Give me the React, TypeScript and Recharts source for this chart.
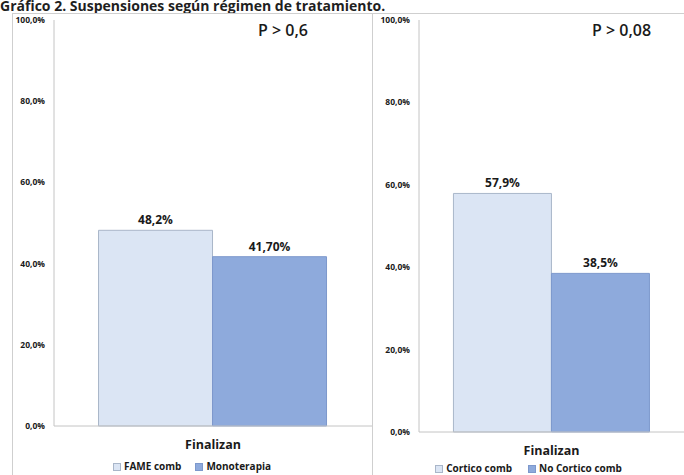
import { BarChart, Bar, XAxis, YAxis, Legend, LabelList } from "recharts";

// valores (%) del gráfico de suspensiones
const categories = ["Finalizan"];
const fameComb = [48.2];
const monoterapia = [41.7];
const corticoComb = [57.9];
const noCorticoComb = [38.5];
const yTicks = [0, 20, 40, 60, 80, 100];
const pValues = ["P > 0,6", "P > 0,08"];

const FONT = "'Open Sans', 'Liberation Sans', sans-serif";
const LIGHT = { fill: "#dbe5f4", stroke: "#a9b6c9" };
const DARK = { fill: "#8eaadc", stroke: "#7d98cc" };

type SeriesDef = {
  name: string;
  values: number[];
  decimals: number;
  color: { fill: string; stroke: string };
};

const fmtPct = (v: number, decimals: number) =>
  v.toFixed(decimals).replace(".", ",") + "%";

function buildRows(series: SeriesDef[]) {
  return categories.map((cat, i) => {
    const row: { [k: string]: string | number } = { name: cat };
    series.forEach((s) => {
      row[s.name] = s.values[i];
    });
    return row;
  });
}

const LegendBoxes = ({
  series,
  gap,
  padTop,
}: {
  series: SeriesDef[];
  gap: number;
  padTop: number;
}) => (
  <div
    style={{
      display: "flex",
      justifyContent: "center",
      gap,
      paddingTop: padTop,
      fontFamily: FONT,
      fontWeight: 700,
      fontSize: 10,
      color: "#1a1a1a",
      lineHeight: "13px",
    }}
  >
    {series.map((s) => (
      <span key={s.name} style={{ display: "flex", alignItems: "center" }}>
        <span
          style={{
            display: "inline-block",
            width: 6,
            height: 6,
            background: s.color.fill,
            border: `1px solid ${s.color.stroke}`,
            marginRight: 3,
          }}
        />
        {s.name}
      </span>
    ))}
  </div>
);

type PanelProps = {
  series: SeriesDef[];
  width: number;
  marginLeft: number;
  axisWidth: number;
  xAxisHeight: number;
  legendHeight: number;
  legendPad: number;
  gapPct: string;
  legendGap: number;
};

function Panel({
  series,
  width,
  marginLeft,
  axisWidth,
  xAxisHeight,
  legendHeight,
  legendPad,
  gapPct,
  legendGap,
}: PanelProps) {
  const rows = buildRows(series);
  return (
    <BarChart
      width={width}
      height={475}
      data={rows}
      margin={{ top: 20, right: 0, left: marginLeft, bottom: 0 }}
      barCategoryGap={gapPct}
      barGap={0}
    >
      <XAxis
        dataKey="name"
        height={xAxisHeight}
        axisLine={{ stroke: "#c4c4c4" }}
        tickLine={false}
        tickSize={0}
        tickMargin={14}
        tick={{ fontFamily: FONT, fontWeight: 700, fontSize: 12.5, fill: "#1a1a1a" }}
      />
      <YAxis
        width={axisWidth}
        domain={[0, 100]}
        ticks={yTicks}
        interval={0}
        axisLine={{ stroke: "#c4c4c4" }}
        tickLine={false}
        tickSize={0}
        tickMargin={9}
        tickFormatter={(v: number) => fmtPct(v, 1)}
        tick={{ fontFamily: FONT, fontWeight: 700, fontSize: 8.5, fill: "#1a1a1a" }}
      />
      <Legend
        verticalAlign="bottom"
        height={legendHeight}
        content={() => (
          <LegendBoxes series={series} gap={legendGap} padTop={legendPad} />
        )}
      />
      {series.map((s) => (
        <Bar
          key={s.name}
          dataKey={s.name}
          fill={s.color.fill}
          stroke={s.color.stroke}
          strokeWidth={1}
          isAnimationActive={false}
        >
          <LabelList
            dataKey={s.name}
            position="top"
            offset={6}
            formatter={(v: number) => fmtPct(v, s.decimals)}
            style={{ fontFamily: FONT, fontWeight: 700, fontSize: 12, fill: "#1a1a1a" }}
          />
        </Bar>
      ))}
    </BarChart>
  );
}

const leftSeries: SeriesDef[] = [
  { name: "FAME comb", values: fameComb, decimals: 1, color: LIGHT },
  { name: "Monoterapia", values: monoterapia, decimals: 2, color: DARK },
];

const rightSeries: SeriesDef[] = [
  { name: "Cortico comb", values: corticoComb, decimals: 1, color: LIGHT },
  { name: "No Cortico comb", values: noCorticoComb, decimals: 1, color: DARK },
];

const pStyle = {
  position: "absolute" as const,
  top: 20,
  fontFamily: FONT,
  fontWeight: 600,
  fontSize: 16,
  color: "#1a1a1a",
  lineHeight: "20px",
};

export default function App() {
  return (
    <div
      style={{
        position: "absolute",
        top: 0,
        left: 0,
        width: 684,
        height: 475,
        background: "#fff",
        overflow: "hidden",
      }}
    >
      <div
        style={{
          position: "absolute",
          top: -3,
          left: 0,
          whiteSpace: "nowrap",
          fontFamily: FONT,
          fontWeight: 700,
          fontSize: 14,
          lineHeight: "17px",
          color: "#1f1f1f",
        }}
      >
        Gráfico 2. Suspensiones según régimen de tratamiento.
      </div>
      {/* marcos de los dos paneles */}
      <div
        style={{
          position: "absolute",
          top: 13,
          left: 12,
          width: 680,
          height: 470,
          borderTop: "1px solid #cfcfcf",
          borderLeft: "1px solid #cfcfcf",
        }}
      />
      <div
        style={{
          position: "absolute",
          top: 13,
          left: 372,
          width: 0,
          height: 470,
          borderLeft: "1px solid #cfcfcf",
        }}
      />
      <div style={{ position: "absolute", top: 0, left: 0 }}>
        <Panel
          series={leftSeries}
          width={372}
          marginLeft={12}
          axisWidth={42}
          xAxisHeight={31}
          legendHeight={18}
          legendPad={3}
          gapPct="14%"
          legendGap={14}
        />
      </div>
      <div style={{ position: "absolute", top: 0, left: 372 }}>
        <Panel
          series={rightSeries}
          width={312}
          marginLeft={1}
          axisWidth={46}
          xAxisHeight={29}
          legendHeight={14}
          legendPad={1}
          gapPct="13%"
          legendGap={16}
        />
      </div>
      <div style={{ ...pStyle, left: 258 }}>{pValues[0]}</div>
      <div style={{ ...pStyle, left: 592 }}>{pValues[1]}</div>
    </div>
  );
}
